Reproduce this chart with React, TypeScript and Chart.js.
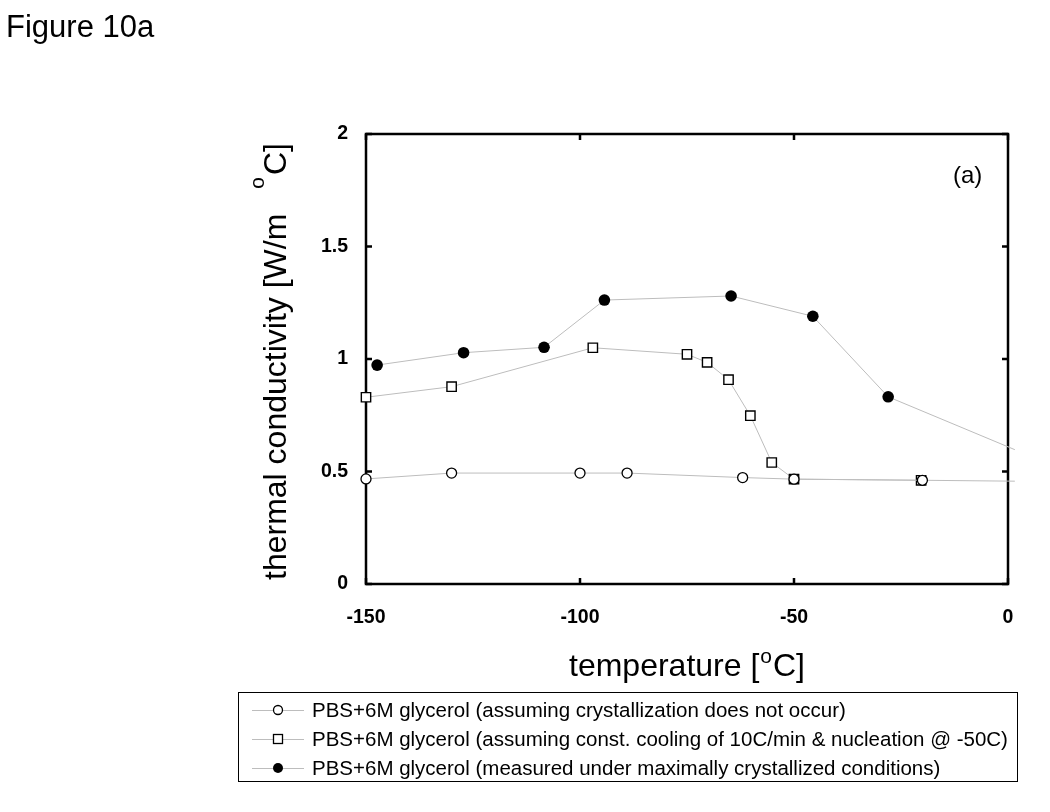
import React, { useEffect, useRef } from "react";
import { Chart, registerables } from "chart.js";

Chart.register(...registerables);

const seriesLabels = [
  "PBS+6M glycerol (assuming crystallization does not occur)",
  "PBS+6M glycerol (assuming const. cooling of 10C/min & nucleation @ -50C)",
  "PBS+6M glycerol (measured under maximally crystallized conditions)",
];
const noCrystT = [-150, -130, -100, -89, -62, -50, -20, 1.6];
const noCrystK = [0.467, 0.493, 0.493, 0.493, 0.473, 0.466, 0.461, 0.457];
const coolingT = [-150, -130, -97, -75, -70.3, -65.3, -60.2, -55.2, -50, -20.3];
const coolingK = [0.83, 0.877, 1.05, 1.021, 0.985, 0.908, 0.748, 0.54, 0.466, 0.461];
const measuredT = [-147.4, -127.2, -108.4, -94.3, -64.7, -45.6, -28, 1.6];
const measuredK = [0.973, 1.028, 1.052, 1.262, 1.28, 1.19, 0.832, 0.597];
const xTicks = [-150, -100, -50, 0];
const yTicks = [0, 0.5, 1, 1.5, 2];

const FONT = "'Liberation Sans', Arial, sans-serif";
const LINE_GRAY = "#bdbdbd";

const toPts = (xs: number[], ys: number[]) => xs.map((x, i) => ({ x, y: ys[i] }));

function drawMarker(ctx: CanvasRenderingContext2D, kind: number, x: number, y: number) {
  ctx.save();
  ctx.strokeStyle = "#000";
  if (kind === 0) {
    ctx.beginPath();
    ctx.arc(x, y, 4.5, 0, Math.PI * 2);
    ctx.fillStyle = "#fff";
    ctx.fill();
    ctx.lineWidth = 1.3;
    ctx.stroke();
  } else if (kind === 1) {
    ctx.fillStyle = "#fff";
    ctx.fillRect(x - 4.5, y - 4.5, 9, 9);
    ctx.lineWidth = 1.3;
    ctx.strokeRect(x - 4.5, y - 4.5, 9, 9);
  } else {
    ctx.beginPath();
    ctx.arc(x, y, 5, 0, Math.PI * 2);
    ctx.fillStyle = "#000";
    ctx.fill();
  }
  ctx.restore();
}

const framePlugin = {
  id: "frame",
  beforeDatasetsDraw(chart: any) {
    const { ctx, chartArea: a, scales } = chart;
    const xs = scales.x;
    const ys = scales.y;
    ctx.save();
    ctx.strokeStyle = "#000";
    ctx.lineWidth = 2.5;
    ctx.strokeRect(a.left, a.top, a.right - a.left, a.bottom - a.top);
    const tl = 6;
    ctx.beginPath();
    xTicks.forEach((v) => {
      const px = xs.getPixelForValue(v);
      ctx.moveTo(px, a.bottom);
      ctx.lineTo(px, a.bottom - tl);
      ctx.moveTo(px, a.top);
      ctx.lineTo(px, a.top + tl);
    });
    yTicks.forEach((v) => {
      const py = ys.getPixelForValue(v);
      ctx.moveTo(a.left, py);
      ctx.lineTo(a.left + tl, py);
      ctx.moveTo(a.right, py);
      ctx.lineTo(a.right - tl, py);
    });
    ctx.stroke();
    ctx.restore();
  },
  afterDraw(chart: any) {
    const { ctx } = chart;
    ctx.save();
    ctx.fillStyle = "#000";
    ctx.textBaseline = "alphabetic";
    ctx.textAlign = "left";

    // Figure label
    ctx.font = `31px ${FONT}`;
    ctx.fillText("Figure 10a", 6, 37);

    // panel tag
    ctx.font = `24px ${FONT}`;
    ctx.fillText("(a)", 953, 183);

    // x title
    ctx.font = `32px ${FONT}`;
    const xMain = "temperature [";
    let x = 569;
    ctx.fillText(xMain, x, 676);
    x += ctx.measureText(xMain).width;
    ctx.font = `21px ${FONT}`;
    ctx.fillText("o", x + 1, 663);
    x += ctx.measureText("o").width + 2;
    ctx.font = `32px ${FONT}`;
    ctx.fillText("C]", x, 676);

    // y title
    ctx.save();
    ctx.translate(286, 580);
    ctx.rotate(-Math.PI / 2);
    ctx.font = `32px ${FONT}`;
    const yMain = "thermal conductivity [W/m";
    ctx.fillText(yMain, 0, 0);
    let y = ctx.measureText(yMain).width + 25;
    ctx.font = `21px ${FONT}`;
    ctx.fillText("o", y, -22);
    y += ctx.measureText("o").width + 2;
    ctx.font = `32px ${FONT}`;
    ctx.fillText("C]", y, 0);
    ctx.restore();

    // legend
    ctx.strokeStyle = "#000";
    ctx.lineWidth = 1;
    ctx.strokeRect(238.5, 692.5, 779, 89);
    const rows = [710, 739, 768];
    ctx.font = `20.5px ${FONT}`;
    seriesLabels.forEach((label, i) => {
      const cy = rows[i];
      ctx.save();
      ctx.strokeStyle = LINE_GRAY;
      ctx.lineWidth = 1;
      ctx.beginPath();
      ctx.moveTo(252, cy + 0.5);
      ctx.lineTo(304, cy + 0.5);
      ctx.stroke();
      ctx.restore();
      drawMarker(ctx, i, 278, cy);
      ctx.fillStyle = "#000";
      ctx.fillText(label, 312, cy + 7);
    });
    ctx.restore();
  },
};

export default function App() {
  const ref = useRef<HTMLCanvasElement | null>(null);
  useEffect(() => {
    if (!ref.current) return;
    const hideBeyond = (r: number) => (c: any) => (c.raw && c.raw.x > 0 ? 0 : r);
    const common = {
      showLine: true,
      borderColor: LINE_GRAY,
      borderWidth: 1,
      pointBorderColor: "#000",
      pointHoverRadius: 0,
      clip: { left: 10, top: 10, right: 7, bottom: 10 },
    };
    const chart = new Chart(ref.current, {
      type: "scatter",
      data: {
        datasets: [
          {
            ...common,
            label: seriesLabels[0],
            data: toPts(noCrystT, noCrystK),
            pointStyle: "circle",
            pointRadius: hideBeyond(5),
            pointBackgroundColor: "#fff",
            pointBorderWidth: 1.3,
          },
          {
            ...common,
            label: seriesLabels[1],
            data: toPts(coolingT, coolingK),
            pointStyle: "rect",
            pointRadius: hideBeyond(6.6),
            pointBackgroundColor: "#fff",
            pointBorderWidth: 1.4,
          },
          {
            ...common,
            label: seriesLabels[2],
            data: toPts(measuredT, measuredK),
            pointStyle: "circle",
            pointRadius: hideBeyond(5.8),
            pointBackgroundColor: "#000",
            pointBorderWidth: 0,
          },
        ],
      } as any,
      options: {
        responsive: false,
        animation: false,
        devicePixelRatio: 1,
        layout: { padding: { left: 0, right: 42, top: 134, bottom: 178 } },
        plugins: { legend: { display: false }, tooltip: { enabled: false } },
        events: [],
        scales: {
          x: {
            type: "linear",
            min: -150,
            max: 0,
            afterBuildTicks: (s: any) => {
              s.ticks = xTicks.map((v) => ({ value: v }));
            },
            afterFit: (s: any) => {
              s.height = 50;
            },
            grid: { display: false },
            border: { display: false },
            ticks: {
              color: "#000",
              padding: 14,
              callback: (v: any) => String(v),
              font: { family: FONT, size: 19.5, weight: "bold" },
            },
          },
          y: {
            type: "linear",
            min: 0,
            max: 2,
            afterBuildTicks: (s: any) => {
              s.ticks = yTicks.map((v) => ({ value: v }));
            },
            afterFit: (s: any) => {
              s.width = 366;
            },
            grid: { display: false },
            border: { display: false },
            ticks: {
              color: "#000",
              padding: 10,
              callback: (v: any) => String(v),
              font: { family: FONT, size: 19.5, weight: "bold" },
            },
          },
        },
      } as any,
      plugins: [framePlugin],
    });
    return () => chart.destroy();
  }, []);
  return (
    <div style={{ position: "absolute", left: 0, top: 0, width: 1050, height: 812, background: "#fff" }}>
      <canvas ref={ref} width={1050} height={812} style={{ display: "block" }} />
    </div>
  );
}
